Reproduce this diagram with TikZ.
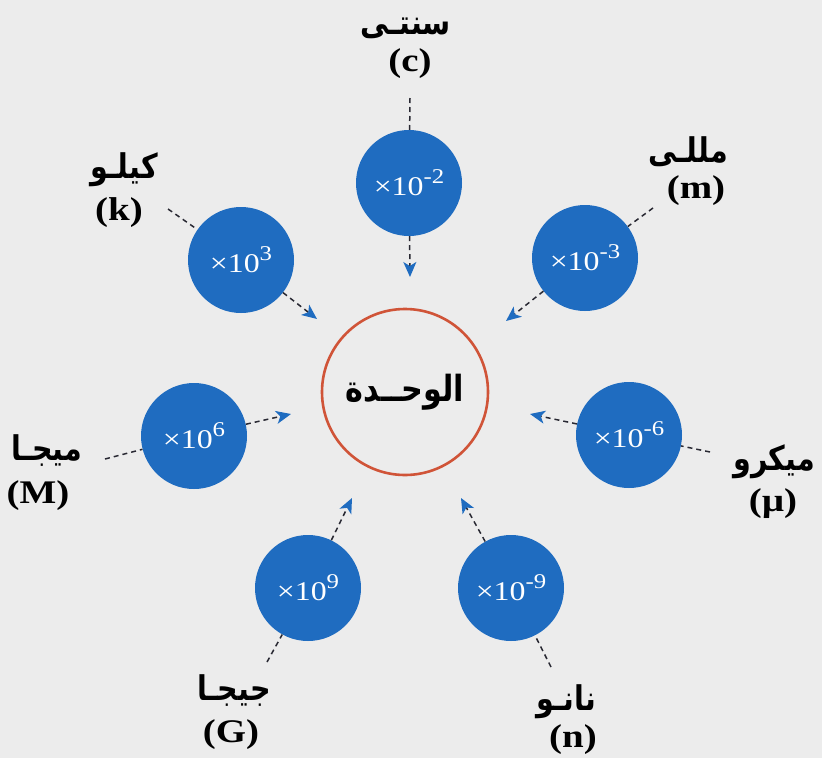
\documentclass[tikz,border=0pt]{standalone}
\usepackage{fontspec}
\usetikzlibrary{arrows.meta}
\TeXXeTstate=1
\newfontfamily\arabicfont[Script=Arabic,FakeStretch=0.84]{DejaVu Sans}
\newfontfamily\lserif[FakeStretch=1.18]{Liberation Serif}
\definecolor{ublue}{RGB}{31,108,192}
\definecolor{ured}{RGB}{208,84,56}
\definecolor{bgc}{RGB}{236,236,236}
\definecolor{dline}{RGB}{40,40,50}
\newcommand\mysup[1]{\raisebox{12pt}{\fontsize{21}{21}\selectfont #1}}
\tikzset{
  bcirc/.style={circle, fill=ublue, minimum size=106pt, inner sep=0pt, text=white,
    font=\lserif\fontsize{27}{27}\selectfont},
  unitcirc/.style={circle, draw=ured, line width=2.6pt, minimum size=166pt, inner sep=0pt,
    font=\arabicfont\bfseries\fontsize{36}{36}\selectfont},
  arlabel/.style={inner sep=0pt, font=\arabicfont\bfseries\fontsize{34}{34}\selectfont},
  ltlabel/.style={inner sep=0pt, font=\lserif\bfseries\fontsize{33}{33}\selectfont},
  tailline/.style={draw=dline, dash pattern=on 5pt off 4pt, line width=1.5pt},
  arrline/.style={tailline, -{Stealth[length=15pt, width=13pt, inset=4pt, color=ublue]}},
}
\begin{document}
\begin{tikzpicture}[x=1pt,y=-1pt]
\fill[bgc] (0,0) rectangle (822,758);
\useasboundingbox (0,0) rectangle (822,758);

% central unit
\node[unitcirc] (u) at (405,392) {\beginR الوحــدة\endR};

% prefix circles
\node[bcirc] (c) at (409,183) {×10\mysup{-2}};
\node[bcirc] (k) at (241,260) {×10\mysup{3}};
\node[bcirc] (m) at (585,258) {×10\mysup{-3}};
\node[bcirc] (M) at (194,436) {×10\mysup{6}};
\node[bcirc] (mu) at (629,435) {×10\mysup{-6}};
\node[bcirc] (G) at (308,588) {×10\mysup{9}};
\node[bcirc] (n) at (511,588) {×10\mysup{-9}};

% labels
\node[arlabel] (cA) at (406,28) {\beginR سنتـى\endR};
\node[ltlabel] (cL) at (410,64) {(c)};
\node[arlabel] (kA) at (124,170) {\beginR كيلـو\endR};
\node[ltlabel] (kL) at (119,213) {(k)};
\node[arlabel] (mA) at (688,152) {\beginR مللـى\endR};
\node[ltlabel] (mL) at (696,191) {(m)};
\node[arlabel] (MA) at (47,451) {\beginR ميجـا\endR};
\node[ltlabel] (ML) at (38,496) {(M)};
\node[arlabel] (muA) at (774,462) {\beginR ميكرو\endR};
\node[ltlabel] (muL) at (773,504) {(µ)};
\node[arlabel] (GA) at (234,691) {\beginR جيجـا\endR};
\node[ltlabel] (GL) at (231,735) {(G)};
\node[arlabel] (nA) at (566,702) {\beginR نانـو\endR};
\node[ltlabel] (nL) at (573,740) {(n)};

% tail and tip coordinates
\coordinate (ct) at (410,98);   \coordinate (cp) at (410,277);
\coordinate (kt) at (168,209);  \coordinate (kp) at (317,319);
\coordinate (mt) at (653,208);  \coordinate (mp) at (506,321);
\coordinate (Mt) at (105,459);  \coordinate (Mp) at (291,414);
\coordinate (mut) at (710,452); \coordinate (mup) at (530,414);
\coordinate (Gt) at (267,662);  \coordinate (Gp) at (352,498);
\coordinate (nt) at (551,667);  \coordinate (np) at (461,498);

\foreach \a in {c,k,m,M,mu,G,n}{
  \draw[tailline] (\a t) -- (\a);
  \draw[arrline] (\a) -- (\a p);
}
\end{tikzpicture}
\end{document}
